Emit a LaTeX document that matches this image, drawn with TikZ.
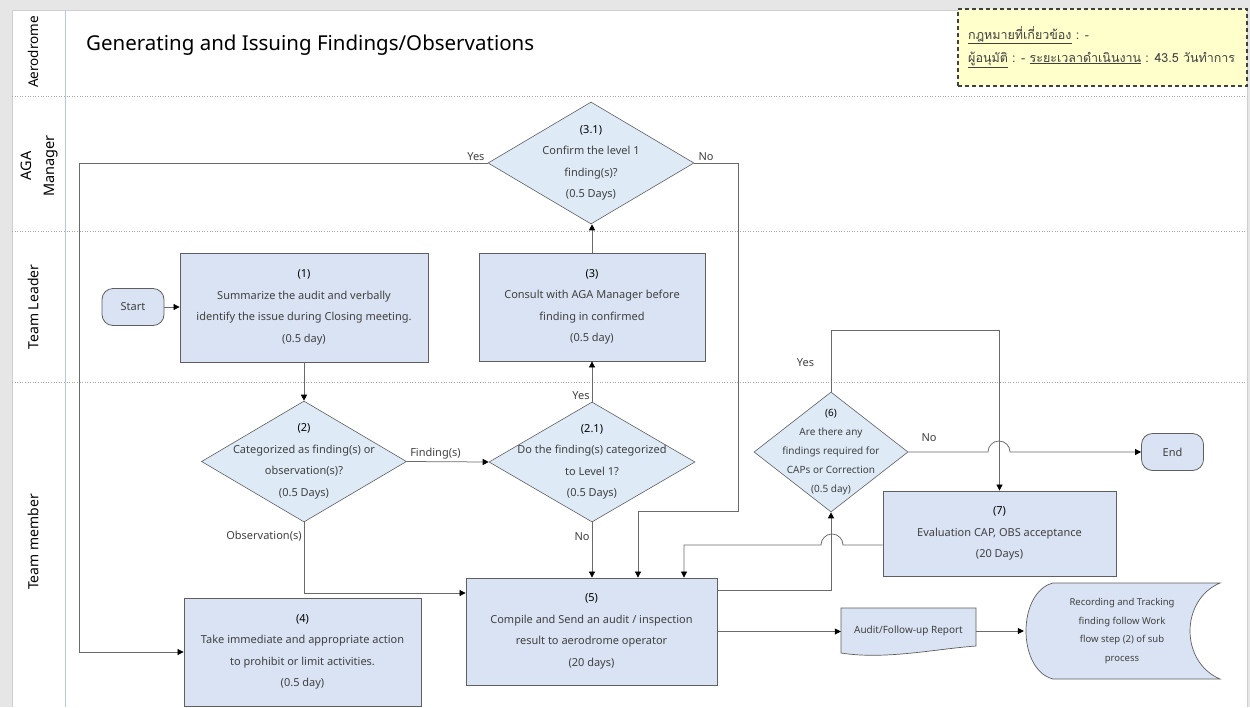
\documentclass[tikz,border=0pt]{standalone}
\usepackage{fontspec}
\setmainfont{Noto Sans}
\newfontfamily\thaifont[Script=Thai]{Loma}
\usetikzlibrary{arrows.meta,shapes.geometric}

\definecolor{pagegray}{HTML}{E6E6E6}
\definecolor{edgegray}{HTML}{CFCFCF}
\definecolor{boxfill}{HTML}{DAE3F3}
\definecolor{diafill}{HTML}{DEEBF7}
\definecolor{boxline}{HTML}{5F5F5F}
\definecolor{linegray}{HTML}{6A6A6A}
\definecolor{txtgray}{HTML}{404040}
\definecolor{dividergray}{HTML}{A6A6A6}
\definecolor{laneblue}{HTML}{B4C7E7}
\definecolor{notefill}{HTML}{FFFFCC}

\newcommand\stepno[1]{\textcolor{black}{\textbf{#1}}}

\tikzset{
  conn/.style={draw=linegray, line width=0.75pt},
  arr/.style={conn, -{Triangle[length=6pt,width=6pt,color=black]}},
  stepbox/.style={rectangle, draw=boxline, fill=boxfill, line width=0.8pt,
    align=center, inner sep=0pt, text=txtgray},
  decision/.style={diamond, draw=boxline, fill=diafill, line width=0.6pt, inner sep=0pt},
  dtext/.style={align=center, text=txtgray, inner sep=0pt},
  terminal/.style={rectangle, rounded corners=11pt, draw=boxline, fill=boxfill,
    line width=0.8pt, minimum width=62pt, minimum height=37pt, text=txtgray},
  lbl/.style={text=txtgray, inner sep=2pt, font=\fontsize{11}{13}\selectfont},
  lane/.style={draw=dividergray, dotted, line width=0.6pt},
  lanelabel/.style={rotate=90, text=black, align=center, font=\fontsize{14}{23}\selectfont},
}

\begin{document}
\begin{tikzpicture}[x=1pt,y=-1pt,font=\fontsize{11}{21.5}\selectfont]
\useasboundingbox (0,0) rectangle (1250,707);

% page and swimlane frame
\fill[pagegray] (0,0) rectangle (1250,707);
\fill[white] (12,10) rectangle (1247,707);
\draw[edgegray, line width=0.8pt] (12,707) -- (12,10) -- (1247,10) -- (1247,707);
\draw[lane] (12,96) -- (1247,96);
\draw[lane] (12,231) -- (1247,231);
\draw[lane] (12,382) -- (1247,382);
\draw[laneblue, line width=0.9pt] (65,10) -- (65,707);

% lane names
\node[lanelabel, font=\fontsize{13.5}{15}\selectfont] (laneA) at (33,52) {Aerodrome};
\node[lanelabel, font=\fontsize{14.5}{23}\selectfont] (laneB) at (39,166) {AGA\\Manager};
\node[lanelabel] (laneC) at (33,307) {Team Leader};
\node[lanelabel] (laneD) at (33,542) {Team member};

% heading
\node[anchor=base west, inner sep=0pt, text=black, font=\fontsize{20.5}{24}\selectfont]
  (title) at (86,50) {Generating and Issuing Findings/Observations};

% note box
\node[rectangle, draw=txtgray, fill=notefill, line width=1.2pt,
  dash pattern=on 4pt off 3pt, minimum width=289pt, minimum height=77pt,
  inner sep=0pt] (note) at (1102.5,47.5) {};
\node[anchor=north west, align=left, inner sep=0pt, text=txtgray,
  font=\thaifont\fontsize{12.5}{23}\selectfont] (notetext) at (968,26)
  {\underline{กฎหมายที่เกี่ยวข้อง} : -\\
   \underline{ผู้อนุมัติ} : - \underline{ระยะเวลาดำเนินงาน} : 43.5 วันทำการ};

% report document and stored-data outlines
\draw[boxline, fill=boxfill, line width=0.7pt]
  (841,608) -- (976,608) -- (976,646)
  .. controls (935,649) and (885,660) .. (841,653) -- cycle;
\draw[boxline, fill=boxfill, line width=0.7pt]
  (1053,583) -- (1220,583) .. controls (1180,600) and (1180,662) .. (1220,679)
  -- (1053,679) .. controls (1017,670) and (1017,592) .. (1053,583) -- cycle;

% process steps
\node[terminal] (start) at (133,307) {Start};
\node[stepbox, minimum width=248pt, minimum height=109pt] (b1) at (304,307.5)
  {\stepno{(1)}\\Summarize the audit and verbally\\identify the issue during Closing meeting.\\(0.5 day)};
\node[stepbox, minimum width=226pt, minimum height=108pt] (b3) at (592,307)
  {\stepno{(3)}\\Consult with AGA Manager before\\finding in confirmed\\(0.5 day)};
\node[decision, minimum width=206pt, minimum height=122pt,
  label={[dtext]center:{\stepno{(3.1)}\\Confirm the level 1\\finding(s)?\\(0.5 Days)}}]
  (d31) at (591,163) {};
\node[decision, minimum width=205pt, minimum height=121pt,
  label={[dtext]center:{\stepno{(2)}\\Categorized as finding(s) or\\observation(s)?\\(0.5 Days)}}]
  (d2) at (304,461.5) {};
\node[decision, minimum width=206pt, minimum height=120pt,
  label={[dtext]center:{\stepno{(2.1)}\\Do the finding(s) categorized\\to Level 1?\\(0.5 Days)}}]
  (d21) at (592,462) {};
\node[stepbox, minimum width=251pt, minimum height=107pt] (b5) at (591.5,631.5)
  {\stepno{(5)}\\Compile and Send an audit / inspection\\result to aerodrome operator\\(20 days)};
\node[stepbox, minimum width=237pt, minimum height=108pt] (b4) at (302.5,652)
  {\stepno{(4)}\\Take immediate and appropriate action\\to prohibit or limit activities.\\(0.5 day)};
\node[decision, minimum width=154pt, minimum height=120pt,
  label={[dtext, font=\fontsize{10}{18.8}\selectfont]center:{\stepno{(6)}\\Are there any\\findings required for\\CAPs or Correction\\(0.5 day)}}]
  (d6) at (831,452) {};
\node[stepbox, minimum width=233pt, minimum height=85pt] (b7) at (999.5,533.5)
  {\stepno{(7)}\\Evaluation CAP, OBS acceptance\\(20 Days)};
\node[terminal] (endn) at (1172.5,452) {End};
\node[inner sep=0pt, minimum width=135pt, minimum height=46pt, text=txtgray,
  font=\fontsize{10}{12}\selectfont] (rep) at (908.5,631) {Audit/Follow-up Report};
\node[inner sep=0pt, minimum width=196pt, minimum height=96pt, align=center, text=txtgray,
  font=\fontsize{9.5}{18.4}\selectfont] (rec) at (1122,631)
  {Recording and Tracking\\finding follow Work\\flow step (2) of sub\\process};

% connectors
\draw[arr] (start.east) -- (b1.west |- start.east);
\draw[arr] (b1.south) -- (d2.north);
\draw[arr] (d2.east) -- (d21.west) node[lbl, above, pos=0.35] {Finding(s)};
\draw[arr] (d2.south) |- ([yshift=38.5pt]b5.west)
  node[lbl, left, pos=0.1] {Observation(s)};
\draw[arr] (d21.north) -- (d21.north |- b3.south) node[lbl, left, pos=0.15] {Yes};
\draw[arr] (d21.south) -- (d21.south |- b5.north) node[lbl, left, pos=0.25] {No};
\draw[arr] (b3.north) -- (b3.north |- d31.south);
\draw[arr] (d31.west) -| ([xshift=-104pt]b4.west) -- (b4.west);
\node[lbl, anchor=south east] (yes31) at ([xshift=-1pt]d31.west) {Yes};
\draw[arr] (d31.east) -| (738,511) -| ([xshift=46.5pt]b5.north);
\node[lbl, anchor=south west] (no31) at ([xshift=2pt]d31.east) {No};
\draw[arr] ([yshift=-11.5pt]b7.west) -- (843,545)
  arc[start angle=0, end angle=180, radius=11pt] -| ([xshift=92.5pt]b5.north);
\draw[arr] ([yshift=41.5pt]b5.east) -| (d6.south);
\draw[arr] (b5.east) -- (b5.east -| rep.west);
\draw[arr] (rep.east) -- (rec.west);
\draw[arr] (d6.north) |- ([yshift=160pt]b7.north) -- (b7.north)
  node[lbl, pos=0.0, xshift=-194pt, yshift=-32pt] {Yes};
\draw[arr] (d6.east) -- (988,452)
  arc[start angle=180, end angle=0, radius=11pt] -- (endn.west);
\node[lbl, anchor=south] (no6) at (929,444) {No};

\end{tikzpicture}
\end{document}
